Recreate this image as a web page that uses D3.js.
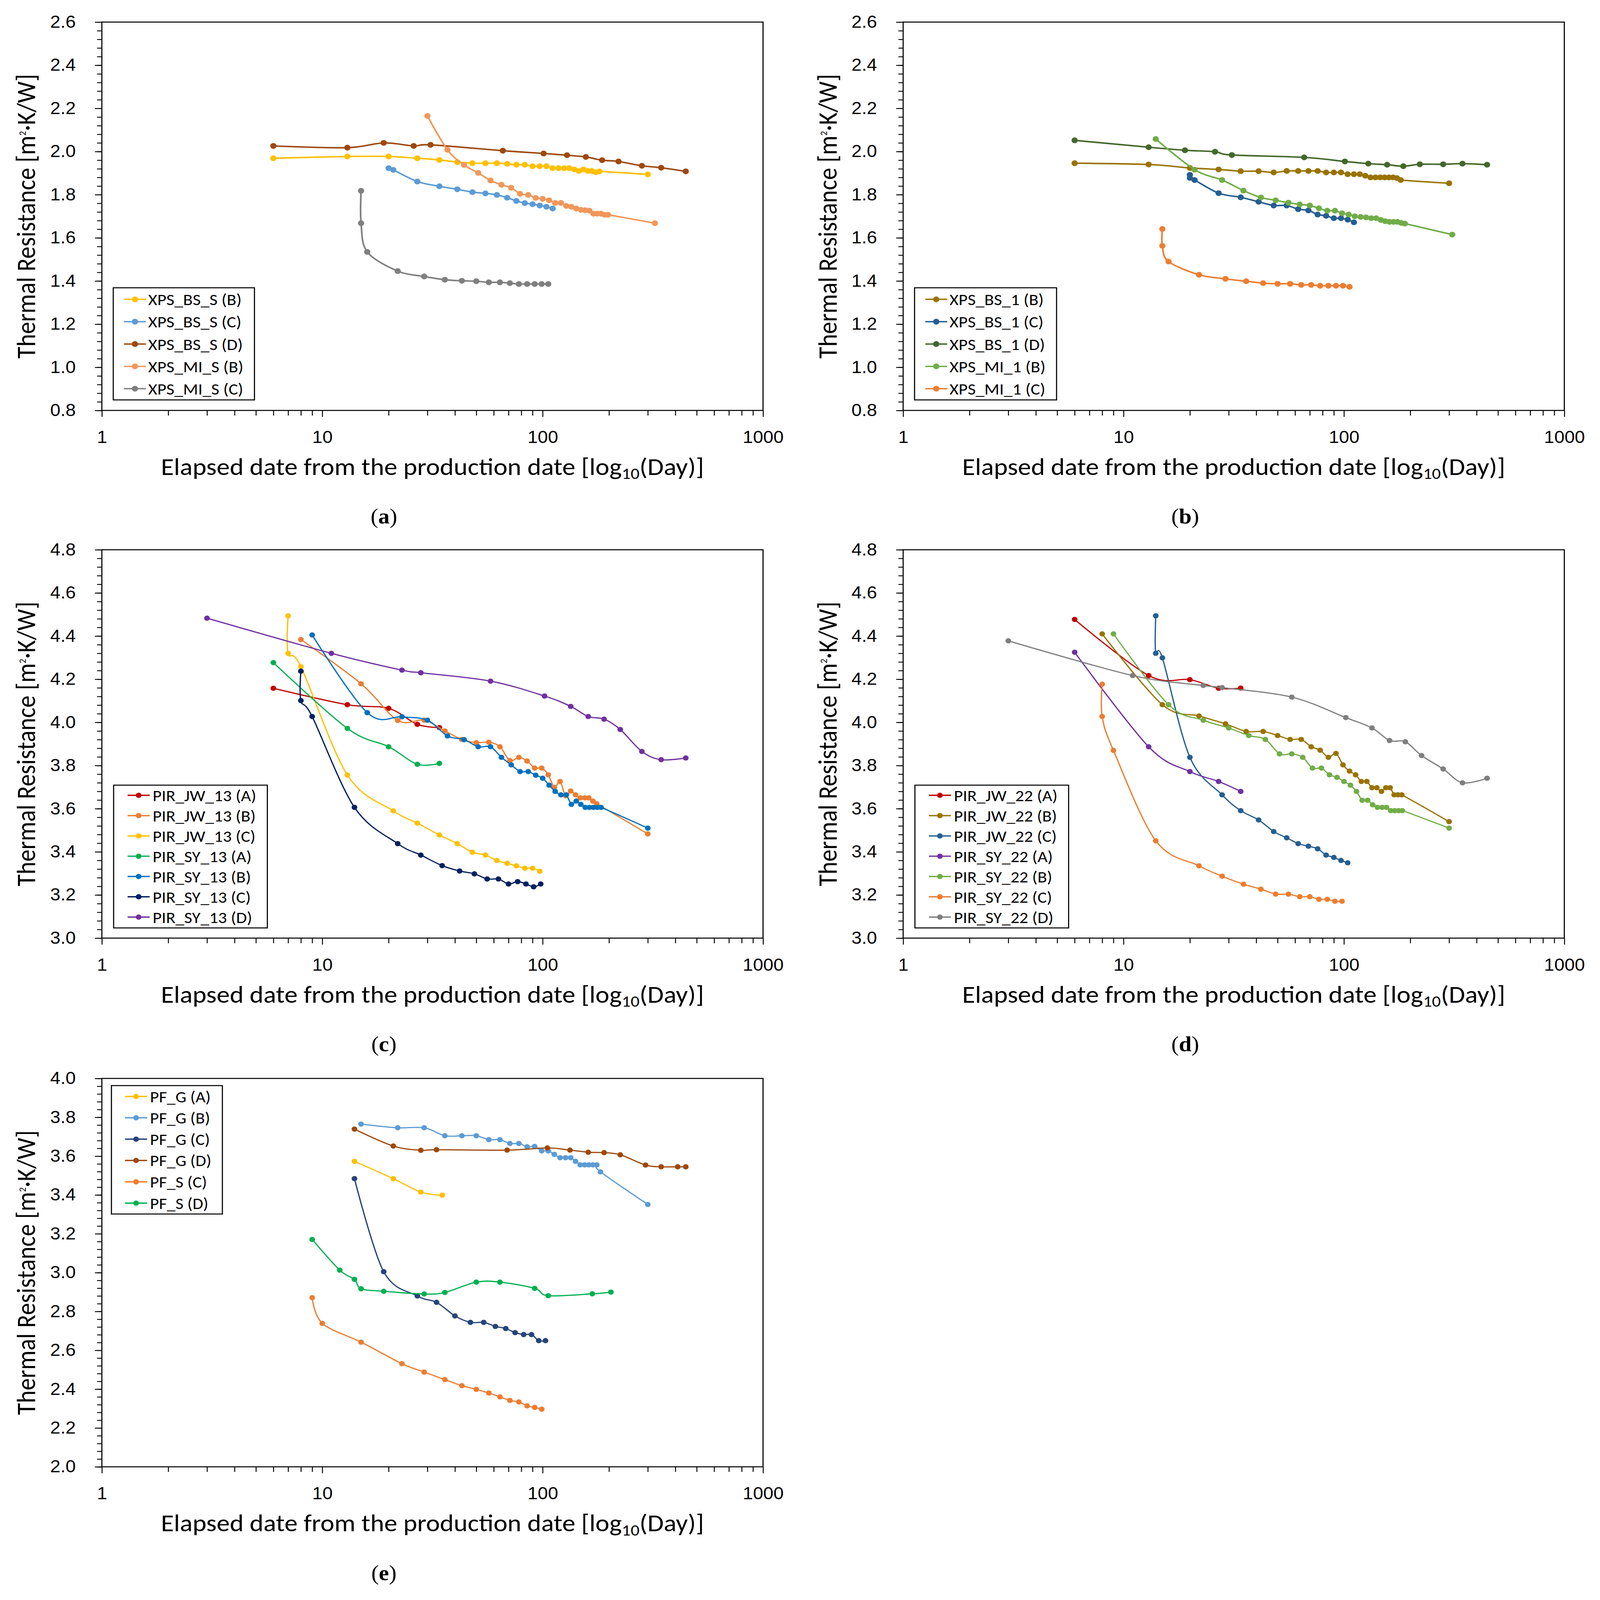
<!DOCTYPE html>
<html>
<head>
<meta charset="utf-8">
<script src="https://cdn.jsdelivr.net/npm/d3@7"></script>
<style>
  html, body { margin: 0; padding: 0; background: #fff; overflow: hidden; }
  #chart { width: 100vw; height: 100vh; }
  svg { display: block; width: 100%; height: 100%; font-family: Calibri, Carlito, Lato, sans-serif; }
</style>
</head>
<body>
<div id="chart"></div>
<script>
// ---- data: elapsed days and thermal resistance [m2K/W] ----

// (a)
const xpsBsS_B_day = [6,13,20,27,34,41,48,55,62,69,76,83,90,97,104,111,118,125,132,139,146,153,160,167,174,181,300];
const xpsBsS_B_R = [1.969,1.977,1.977,1.969,1.961,1.951,1.946,1.946,1.946,1.943,1.939,1.939,1.932,1.932,1.932,1.923,1.923,1.923,1.923,1.917,1.910,1.917,1.910,1.910,1.904,1.908,1.894];
const xpsBsS_C_day = [20,21,27,34,41,48,55,62,69,76,83,90,97,104,111];
const xpsBsS_C_R = [1.923,1.915,1.861,1.839,1.825,1.812,1.806,1.799,1.786,1.771,1.761,1.756,1.750,1.744,1.736];
const xpsBsS_D_day = [6,13,19,26,31,66,101,129,157,186,221,282,345,446];
const xpsBsS_D_R = [2.026,2.018,2.040,2.026,2.031,2.004,1.991,1.983,1.975,1.960,1.954,1.934,1.925,1.908];
const xpsMiS_B_day = [30,37,44,51,58,65,72,79,86,93,100,107,114,121,128,135,142,149,156,163,170,177,184,191,198,323];
const xpsMiS_B_R = [2.165,2.008,1.938,1.901,1.866,1.846,1.832,1.804,1.799,1.785,1.781,1.774,1.762,1.762,1.748,1.744,1.736,1.730,1.728,1.726,1.712,1.712,1.712,1.707,1.707,1.668];
const xpsMiS_C_day = [15,15,16,22,29,36,43,50,57,64,71,78,85,92,99,106];
const xpsMiS_C_R = [1.818,1.668,1.535,1.446,1.421,1.406,1.401,1.399,1.394,1.394,1.390,1.386,1.386,1.386,1.386,1.386];

// (b)
const xpsBs1_B_day = [6,13,20,27,34,41,48,55,62,69,76,83,90,97,104,111,118,125,132,139,146,153,160,167,174,181,300];
const xpsBs1_B_R = [1.946,1.940,1.924,1.917,1.909,1.909,1.903,1.910,1.910,1.910,1.910,1.903,1.903,1.903,1.895,1.895,1.895,1.888,1.880,1.880,1.880,1.880,1.880,1.880,1.877,1.868,1.853];
const xpsBs1_C_day = [20,20,21,27,34,41,48,55,62,69,76,83,90,97,104,111];
const xpsBs1_C_R = [1.892,1.878,1.868,1.807,1.788,1.767,1.750,1.750,1.733,1.727,1.708,1.702,1.691,1.691,1.684,1.672];
const xpsBs1_D_day = [6,13,19,26,31,66,101,129,157,186,221,282,345,446];
const xpsBs1_D_R = [2.052,2.020,2.006,1.999,1.984,1.973,1.954,1.944,1.939,1.932,1.941,1.941,1.944,1.939];
const xpsMi1_B_day = [14,21,28,35,42,49,56,63,70,77,84,91,98,105,112,119,126,133,140,147,154,161,168,175,182,189,310];
const xpsMi1_B_R = [2.058,1.916,1.868,1.819,1.787,1.774,1.763,1.755,1.750,1.737,1.726,1.726,1.714,1.708,1.700,1.697,1.695,1.691,1.691,1.683,1.677,1.674,1.674,1.674,1.669,1.666,1.615];
const xpsMi1_C_day = [15,15,16,22,29,36,43,50,57,64,71,78,85,92,99,106];
const xpsMi1_C_R = [1.641,1.563,1.490,1.429,1.410,1.399,1.390,1.387,1.387,1.382,1.382,1.378,1.378,1.378,1.378,1.373];

// (c)
const pirJw13_A_day = [6,13,20,27,34];
const pirJw13_A_R = [4.158,4.082,4.065,3.991,3.976];
const pirJw13_B_day = [8,15,22,29,36,43,50,57,64,71,78,85,92,99,106,113,120,127,134,141,148,155,162,169,176,300];
const pirJw13_B_R = [4.384,4.179,4.009,4.010,3.960,3.921,3.906,3.908,3.887,3.823,3.838,3.821,3.788,3.788,3.757,3.699,3.726,3.660,3.682,3.664,3.650,3.650,3.650,3.635,3.623,3.483];
const pirJw13_C_day = [7,7,8,13,21,27,34,41,48,55,62,69,76,83,90,97];
const pirJw13_C_R = [4.494,4.320,4.258,3.756,3.590,3.533,3.478,3.438,3.398,3.385,3.360,3.347,3.335,3.324,3.324,3.310];
const pirSy13_A_day = [6,13,20,27,34];
const pirSy13_A_R = [4.277,3.972,3.887,3.806,3.810];
const pirSy13_B_day = [9,16,23,30,37,44,51,58,65,72,79,86,93,100,107,114,121,128,135,142,149,156,163,170,177,184,300];
const pirSy13_B_R = [4.405,4.045,4.026,4.010,3.937,3.920,3.887,3.887,3.838,3.803,3.772,3.772,3.755,3.741,3.709,3.680,3.664,3.664,3.620,3.635,3.620,3.606,3.606,3.606,3.606,3.606,3.510];
const pirSy13_C_day = [8,8,9,14,22,28,35,42,49,56,63,70,77,84,91,98];
const pirSy13_C_R = [4.237,4.101,4.027,3.606,3.438,3.385,3.336,3.311,3.298,3.274,3.274,3.251,3.262,3.251,3.238,3.251];
const pirSy13_D_day = [3,11,23,28,58,102,134,161,190,225,282,345,446];
const pirSy13_D_R = [4.483,4.320,4.242,4.230,4.191,4.122,4.074,4.027,4.015,3.967,3.865,3.827,3.835];

// (d)
const pirJw22_A_day = [6,13,20,27,34];
const pirJw22_A_R = [4.477,4.217,4.198,4.158,4.159];
const pirJw22_B_day = [8,15,22,29,36,43,50,57,64,71,78,85,92,99,106,113,120,127,134,141,148,155,162,169,176,183,300];
const pirJw22_B_R = [4.410,4.082,4.030,3.993,3.958,3.958,3.939,3.921,3.921,3.887,3.871,3.838,3.856,3.803,3.774,3.757,3.726,3.726,3.697,3.697,3.680,3.697,3.697,3.664,3.664,3.664,3.540];
const pirJw22_C_day = [14,14,15,20,28,34,41,48,55,62,69,76,83,90,97,104];
const pirJw22_C_R = [4.494,4.320,4.299,3.838,3.664,3.591,3.548,3.494,3.465,3.438,3.426,3.414,3.385,3.374,3.360,3.349];
const pirSy22_A_day = [6,13,20,27,34];
const pirSy22_A_R = [4.325,3.887,3.772,3.726,3.680];
const pirSy22_B_day = [9,16,23,30,37,44,51,58,65,72,79,86,93,100,107,114,121,128,135,142,149,156,163,170,177,184,300];
const pirSy22_B_R = [4.410,4.082,4.010,3.974,3.939,3.921,3.854,3.854,3.838,3.788,3.788,3.757,3.745,3.726,3.709,3.680,3.639,3.639,3.618,3.606,3.606,3.606,3.591,3.591,3.591,3.591,3.510];
const pirSy22_C_day = [8,8,9,14,22,28,35,42,49,56,63,70,77,84,91,98];
const pirSy22_C_R = [4.177,4.027,3.870,3.451,3.335,3.287,3.250,3.227,3.204,3.204,3.192,3.192,3.180,3.180,3.171,3.171];
const pirSy22_D_day = [3,11,23,28,58,102,134,161,190,225,282,345,446];
const pirSy22_D_R = [4.378,4.217,4.171,4.161,4.117,4.022,3.974,3.916,3.910,3.846,3.784,3.720,3.741];

// (e)
const pfG_A_day = [14,21,28,35];
const pfG_A_R = [3.573,3.484,3.415,3.399];
const pfG_B_day = [15,22,29,36,43,50,57,64,71,78,85,92,99,106,113,120,127,134,141,148,155,162,169,176,183,300];
const pfG_B_R = [3.765,3.746,3.746,3.705,3.705,3.705,3.685,3.685,3.665,3.665,3.648,3.650,3.627,3.627,3.609,3.592,3.592,3.592,3.573,3.555,3.555,3.555,3.555,3.555,3.519,3.351];
const pfG_C_day = [14,19,27,33,40,47,54,61,68,75,82,89,96,103];
const pfG_C_R = [3.484,3.005,2.880,2.847,2.777,2.744,2.744,2.723,2.712,2.691,2.681,2.681,2.650,2.650];
const pfG_D_day = [14,21,28,33,69,105,133,161,190,225,293,345,410,446];
const pfG_D_R = [3.739,3.652,3.630,3.633,3.631,3.642,3.631,3.620,3.618,3.607,3.554,3.545,3.545,3.545];
const pfS_C_day = [9,10,15,23,29,36,43,50,57,64,71,78,85,92,99];
const pfS_C_R = [2.871,2.739,2.642,2.531,2.488,2.449,2.418,2.399,2.380,2.360,2.342,2.334,2.314,2.306,2.297];
const pfS_D_day = [9,12,14,15,19,29,36,50,64,92,106,168,204];
const pfS_D_R = [3.171,3.013,2.965,2.917,2.904,2.890,2.898,2.951,2.951,2.919,2.881,2.891,2.900];

// legend names
const namesA = ["XPS_BS_S (B)", "XPS_BS_S (C)", "XPS_BS_S (D)", "XPS_MI_S (B)", "XPS_MI_S (C)"];
const namesB = ["XPS_BS_1 (B)", "XPS_BS_1 (C)", "XPS_BS_1 (D)", "XPS_MI_1 (B)", "XPS_MI_1 (C)"];
const namesC = ["PIR_JW_13 (A)", "PIR_JW_13 (B)", "PIR_JW_13 (C)", "PIR_SY_13 (A)", "PIR_SY_13 (B)", "PIR_SY_13 (C)", "PIR_SY_13 (D)"];
const namesD = ["PIR_JW_22 (A)", "PIR_JW_22 (B)", "PIR_JW_22 (C)", "PIR_SY_22 (A)", "PIR_SY_22 (B)", "PIR_SY_22 (C)", "PIR_SY_22 (D)"];
const namesE = ["PF_G (A)", "PF_G (B)", "PF_G (C)", "PF_G (D)", "PF_S (C)", "PF_S (D)"];

// ticks
const xTickValues = [1, 10, 100, 1000];
const yTicksAB = [0.8, 1.0, 1.2, 1.4, 1.6, 1.8, 2.0, 2.2, 2.4, 2.6];
const yTicksCD = [3.0, 3.2, 3.4, 3.6, 3.8, 4.0, 4.2, 4.4, 4.6, 4.8];
const yTicksE = [2.0, 2.2, 2.4, 2.6, 2.8, 3.0, 3.2, 3.4, 3.6, 3.8, 4.0];

// colours (Excel palette)
const colorsA = ["#FFC000", "#5B9BD5", "#9E480E", "#F1975A", "#7F7F7F"];
const colorsB = ["#997300", "#255E91", "#43682B", "#70AD47", "#ED7D31"];
const colorsC = ["#C00000", "#ED7D31", "#FFC000", "#00B050", "#0070C0", "#002060", "#7030A0"];
const colorsD = ["#C00000", "#997300", "#255E91", "#7030A0", "#70AD47", "#ED7D31", "#7F7F7F"];
const colorsE = ["#FFC000", "#5B9BD5", "#264478", "#9E480E", "#ED7D31", "#00B050"];

// ---- layout (in the 4351 x 4709 frame of the original figure) ----
const W = 4351, H = 4709;
const plotW = 1798, plotH = 1143;
const colLeft = [277, 2456];
const rowTop = [65, 1618, 3174];

// the viewport may not be 4351x4709: stretch the whole figure onto it
const svg = d3.select("#chart").append("svg")
  .attr("viewBox", [0, 0, W, H])
  .attr("preserveAspectRatio", "none");
svg.append("rect").attr("width", W).attr("height", H).attr("fill", "#fff");

function fitText(sel, target) {
  const len = sel.node().getComputedTextLength();
  const fs = parseFloat(sel.attr("font-size"));
  sel.attr("font-size", fs * target / len);
}

function fontFor(text, target) {
  const probe = svg.append("text").attr("font-size", 50).text(text);
  const len = probe.node().getComputedTextLength();
  probe.remove();
  return 50 * target / len;
}

function drawPanel(cfg) {
  const g = svg.append("g").attr("transform", `translate(${cfg.left},${cfg.top})`);
  const x = d3.scaleLog().domain([1, 1000]).range([0, plotW]);
  const y = d3.scaleLinear().domain(cfg.yDomain).range([plotH, 0]);

  // y minor ticks every 0.04
  const nMinor = Math.round((cfg.yDomain[1] - cfg.yDomain[0]) / 0.04);
  const yMinor = d3.range(nMinor + 1).map((i) => cfg.yDomain[0] + i * 0.04);
  g.append("g")
    .call(d3.axisLeft(y).tickValues(yMinor).tickSize(13).tickFormat(""))
    .call((a) => a.select(".domain").remove())
    .selectAll("line").attr("stroke", "#000").attr("stroke-width", 2.6);

  g.append("g")
    .attr("font-family", null)
    .call(d3.axisLeft(y).tickValues(cfg.yTicks).tickSize(19).tickPadding(52).tickFormat(d3.format(".1f")))
    .call((a) => a.select(".domain").remove())
    .call((a) => a.selectAll("line").attr("stroke", "#000").attr("stroke-width", 2.6))
    .call((a) => a.selectAll("text").attr("font-size", 50).attr("fill", "#000"));

  // x ticks (log)
  const xMinor = [];
  [1, 10, 100].forEach((dec) => d3.range(2, 10).forEach((k) => xMinor.push(dec * k)));
  g.append("g")
    .attr("transform", `translate(0,${plotH})`)
    .call(d3.axisBottom(x).tickValues(xMinor).tickSize(15).tickFormat(""))
    .call((a) => a.select(".domain").remove())
    .selectAll("line").attr("stroke", "#000").attr("stroke-width", 2.6);
  g.append("g")
    .attr("transform", `translate(0,${plotH})`)
    .attr("font-family", null)
    .call(d3.axisBottom(x).tickValues(xTickValues).tickSize(19).tickPadding(41).tickFormat(d3.format("d")))
    .call((a) => a.select(".domain").remove())
    .call((a) => a.selectAll("line").attr("stroke", "#000").attr("stroke-width", 2.6))
    .call((a) => a.selectAll("text").attr("font-size", 50).attr("fill", "#000"));

  // frame
  g.append("rect")
    .attr("width", plotW)
    .attr("height", plotH)
    .attr("fill", "none")
    .attr("stroke", "#000")
    .attr("stroke-width", 3);

  // series: smoothed lines (Excel-style) with round markers
  const line = d3.line()
    .x((d) => x(d[0]))
    .y((d) => y(d[1]))
    .curve(d3.curveCardinal.tension(0));
  cfg.series.forEach((s, i) => {
    const pts = d3.zip(s[0], s[1]);
    const c = cfg.colors[i];
    g.append("path")
      .attr("d", line(pts))
      .attr("fill", "none")
      .attr("stroke", c)
      .attr("stroke-width", cfg.lineWidth);
    g.append("g")
      .selectAll("circle")
      .data(pts)
      .join("circle")
      .attr("cx", (d) => x(d[0]))
      .attr("cy", (d) => y(d[1]))
      .attr("r", cfg.r)
      .attr("fill", c);
  });

  // legend
  const lg = cfg.legend;
  const n = cfg.names.length;
  const boxH = (n - 1) * lg.step + lg.padTop + lg.padBottom;
  const boxTop = lg.at === "top" ? lg.gap : plotH - lg.gap - boxH;
  const fs = fontFor(lg.probe[0], lg.probe[1]);
  const leg = g.append("g").attr("transform", `translate(${lg.left},${boxTop})`);
  const box = leg.append("rect")
    .attr("fill", "#fff")
    .attr("stroke", "#000")
    .attr("stroke-width", 3)
    .attr("height", boxH);
  let maxLen = 0;
  cfg.names.forEach((name, i) => {
    const cy = lg.padTop + i * lg.step;
    leg.append("line")
      .attr("x1", lg.lineX).attr("x2", lg.lineX + 60)
      .attr("y1", cy).attr("y2", cy)
      .attr("stroke", cfg.colors[i])
      .attr("stroke-width", 4);
    leg.append("circle").attr("cx", lg.lineX + 30).attr("cy", cy).attr("r", cfg.r).attr("fill", cfg.colors[i]);
    const t = leg.append("text")
      .attr("x", lg.textX)
      .attr("y", cy)
      .attr("dy", "0.36em")
      .attr("font-size", fs)
      .text(name);
    maxLen = Math.max(maxLen, t.node().getComputedTextLength());
  });
  box.attr("width", lg.textX + maxLen + 30);

  // axis titles
  const xt = g.append("text")
    .attr("x", plotW / 2)
    .attr("y", plotH + 190)
    .attr("text-anchor", "middle")
    .attr("font-size", 60);
  xt.append("tspan").text("Elapsed date from the production date [log");
  xt.append("tspan").attr("font-size", 40).attr("dy", 12).text("10");
  xt.append("tspan").attr("dy", -12).text("(Day)]");
  fitText(xt, 1477);
  xt.selectAll("tspan").filter((d, i) => i === 1).attr("font-size", parseFloat(xt.attr("font-size")) * 0.66);

  const yt = g.append("text")
    .attr("transform", `translate(-181,${plotH / 2}) rotate(-90)`)
    .attr("text-anchor", "middle")
    .attr("font-size", 60);
  yt.append("tspan").text("Thermal Resistance [m");
  yt.append("tspan").attr("font-size", 26).attr("dy", -26).text("2");
  yt.append("tspan").attr("dy", 26).text("·K/W]");
  fitText(yt, 840);

  // panel label
  const lab = g.append("text")
    .attr("x", 767)
    .attr("y", plotH + 333)
    .attr("text-anchor", "middle")
    .attr("font-family", "'Palatino Linotype', 'Book Antiqua', Palatino, 'Liberation Serif', serif")
    .attr("font-size", 62);
  lab.append("tspan").text("(");
  lab.append("tspan").attr("font-weight", "bold").text(cfg.label);
  lab.append("tspan").text(")");
}

const legendAB = { at: "bottom", left: 31, gap: 31, step: 65.75, padTop: 34, padBottom: 33, lineX: 29, textX: 95, probe: ["XPS_BS_S (B)", 254] };
const legendCD = { at: "bottom", left: 32, gap: 30, step: 59.7, padTop: 30, padBottom: 32, lineX: 38, textX: 106, probe: ["PIR_JW_13 (A)", 282] };
const legendE = { at: "top", left: 26, gap: 21, step: 62.8, padTop: 32, padBottom: 32, lineX: 37, textX: 105, probe: ["PF_G (A)", 165] };

drawPanel({
  left: colLeft[0], top: rowTop[0], yDomain: [0.8, 2.6], yTicks: yTicksAB,
  names: namesA, colors: colorsA, legend: legendAB, lineWidth: 4.5, r: 8.5, label: "a",
  series: [[xpsBsS_B_day, xpsBsS_B_R], [xpsBsS_C_day, xpsBsS_C_R], [xpsBsS_D_day, xpsBsS_D_R], [xpsMiS_B_day, xpsMiS_B_R], [xpsMiS_C_day, xpsMiS_C_R]],
});
drawPanel({
  left: colLeft[1], top: rowTop[0], yDomain: [0.8, 2.6], yTicks: yTicksAB,
  names: namesB, colors: colorsB, legend: legendAB, lineWidth: 4.5, r: 8.5, label: "b",
  series: [[xpsBs1_B_day, xpsBs1_B_R], [xpsBs1_C_day, xpsBs1_C_R], [xpsBs1_D_day, xpsBs1_D_R], [xpsMi1_B_day, xpsMi1_B_R], [xpsMi1_C_day, xpsMi1_C_R]],
});
drawPanel({
  left: colLeft[0], top: rowTop[1], yDomain: [3.0, 4.8], yTicks: yTicksCD,
  names: namesC, colors: colorsC, legend: legendCD, lineWidth: 3.5, r: 7.75, label: "c",
  series: [[pirJw13_A_day, pirJw13_A_R], [pirJw13_B_day, pirJw13_B_R], [pirJw13_C_day, pirJw13_C_R], [pirSy13_A_day, pirSy13_A_R], [pirSy13_B_day, pirSy13_B_R], [pirSy13_C_day, pirSy13_C_R], [pirSy13_D_day, pirSy13_D_R]],
});
drawPanel({
  left: colLeft[1], top: rowTop[1], yDomain: [3.0, 4.8], yTicks: yTicksCD,
  names: namesD, colors: colorsD, legend: legendCD, lineWidth: 3.5, r: 7.75, label: "d",
  series: [[pirJw22_A_day, pirJw22_A_R], [pirJw22_B_day, pirJw22_B_R], [pirJw22_C_day, pirJw22_C_R], [pirSy22_A_day, pirSy22_A_R], [pirSy22_B_day, pirSy22_B_R], [pirSy22_C_day, pirSy22_C_R], [pirSy22_D_day, pirSy22_D_R]],
});
drawPanel({
  left: colLeft[0], top: rowTop[2], yDomain: [2.0, 4.0], yTicks: yTicksE,
  names: namesE, colors: colorsE, legend: legendE, lineWidth: 3.5, r: 7.75, label: "e",
  series: [[pfG_A_day, pfG_A_R], [pfG_B_day, pfG_B_R], [pfG_C_day, pfG_C_R], [pfG_D_day, pfG_D_R], [pfS_C_day, pfS_C_R], [pfS_D_day, pfS_D_R]],
});
</script>
</body>
</html>
